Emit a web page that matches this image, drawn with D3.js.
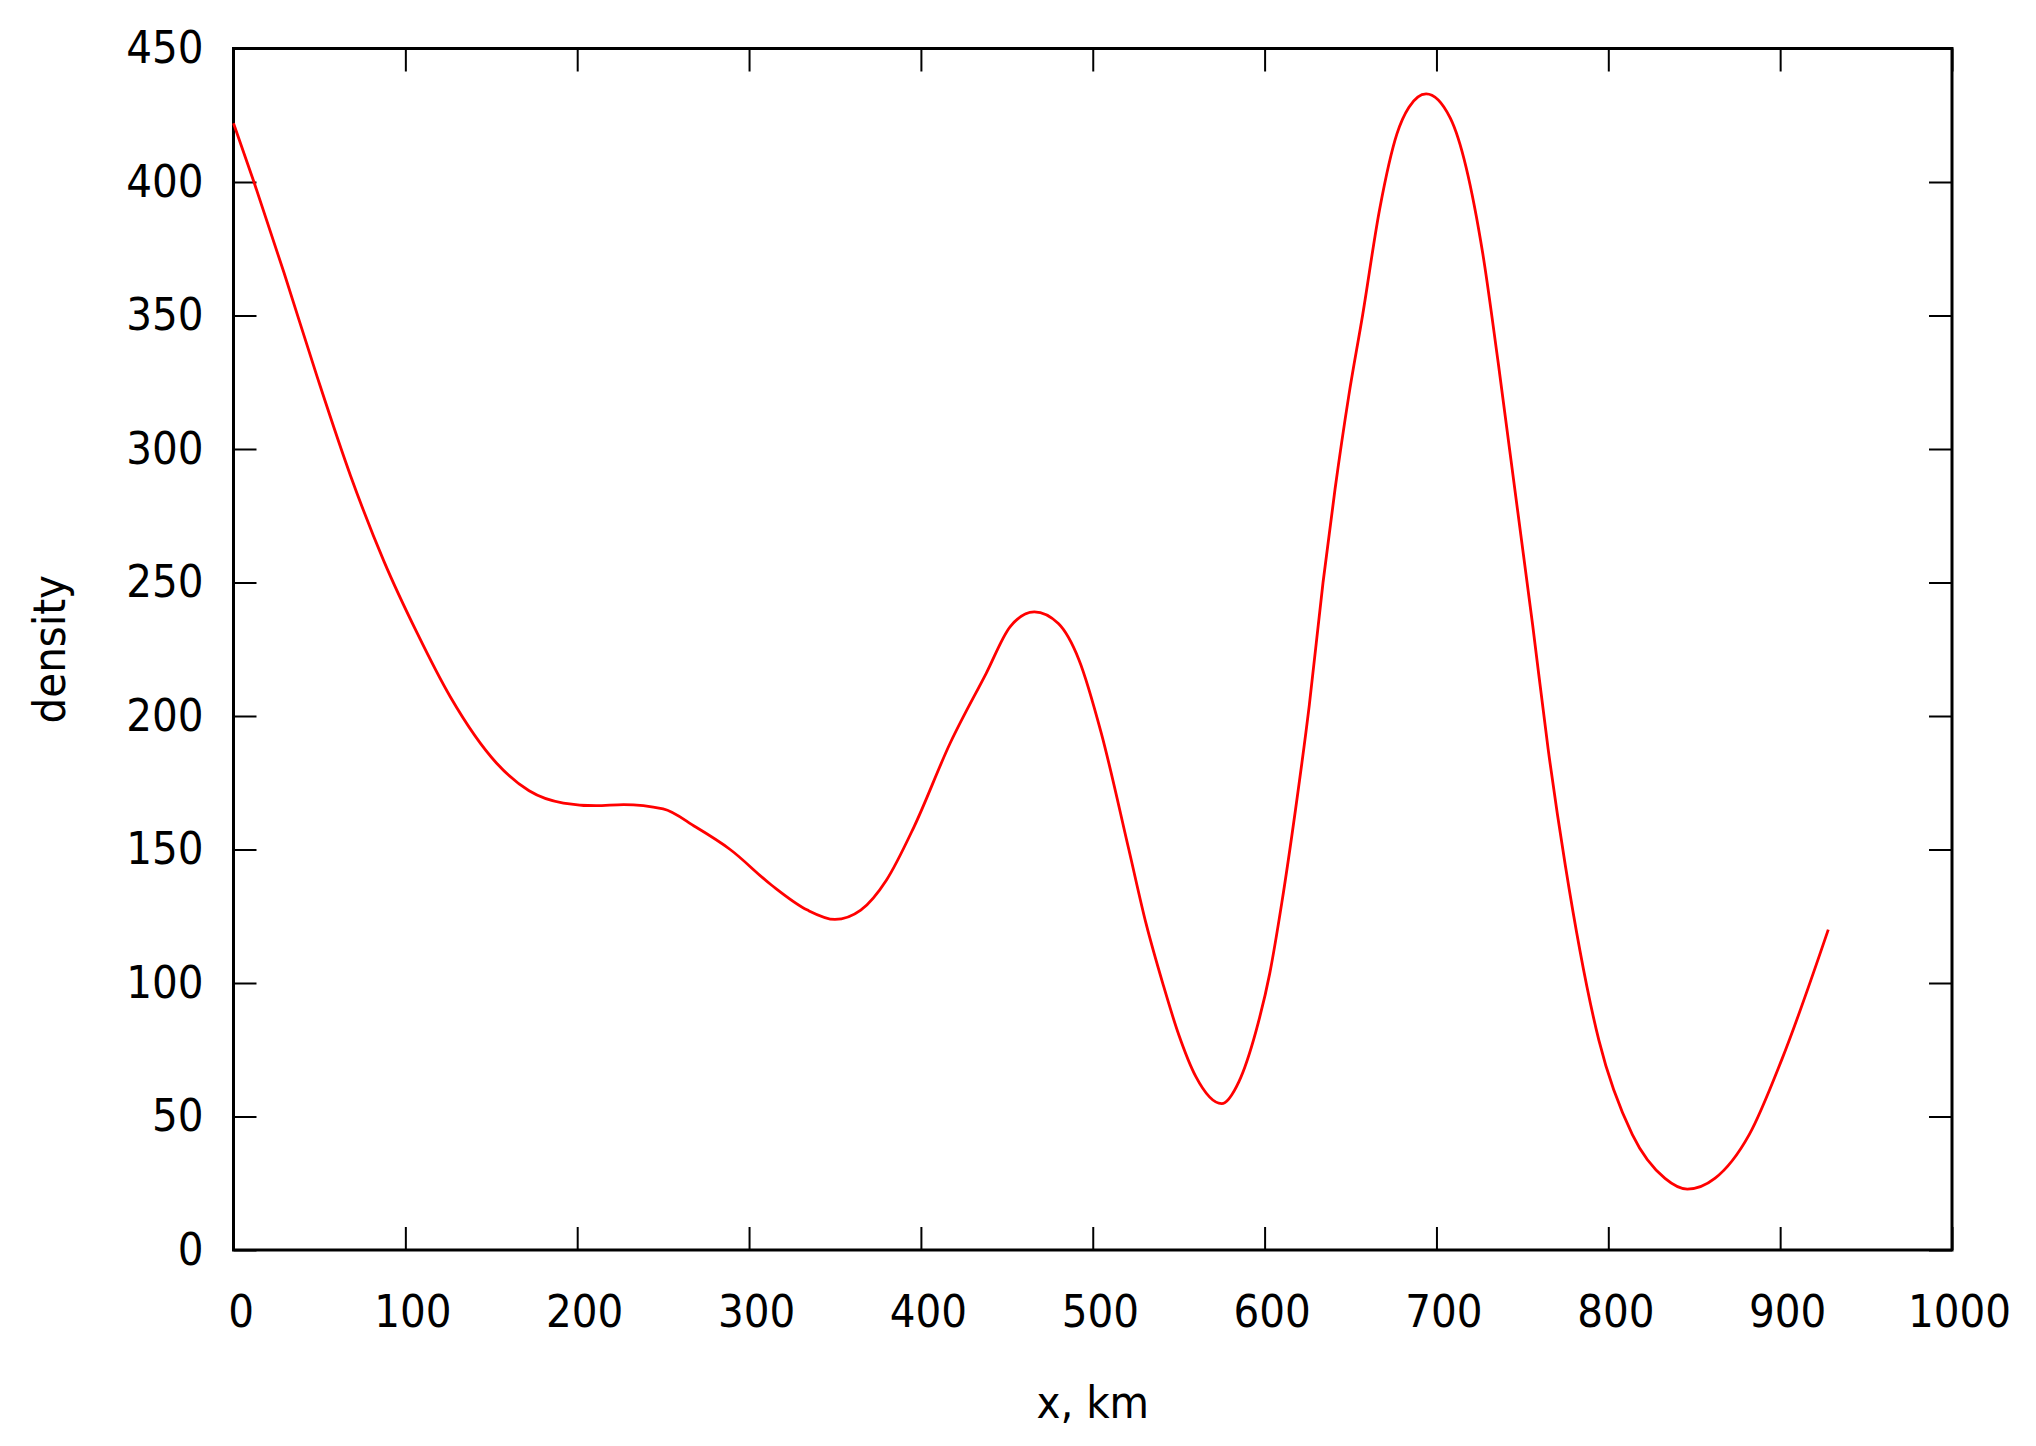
<!DOCTYPE html>
<html>
<head>
<meta charset="utf-8">
<script src="https://cdn.jsdelivr.net/npm/d3@7"></script>
<style>
    body { margin: 0; background: #fff; }
    text { font-family: "DejaVu Sans Condensed", "DejaVu Sans", sans-serif; fill: #000; }
</style>
</head>
<body>
<div id="chart"></div>
<script>
// distance along the profile, km
const xKm = [0, 11.9, 29.4, 48.7, 68.1, 87.5, 106.9, 126.3, 153, 172, 192, 211, 227, 250, 269, 289,
    313, 334, 350, 365, 380, 396, 417, 438, 452, 466, 480, 492, 505, 521, 531, 541, 550, 560,
    575, 585, 595, 603, 610, 618, 626, 634, 641, 649, 657, 667, 677, 684, 694, 708, 727, 736,
    756, 765, 775, 794.5, 814, 833, 846, 862, 882, 901, 928];

// density
const density = [422, 400, 366, 327, 290, 258, 231, 207, 182.4, 172, 167.4, 166.4, 166.8, 165.2, 158.4, 150,
    136.7, 127.3, 123.8, 127.3, 138.6, 158.5, 189.8, 216, 233.5, 239, 234.6, 221, 193.5, 150, 122.3, 99.3, 80.7, 64.9,
    54.8, 63, 82, 103.6, 130, 165, 204, 250, 285, 320, 350, 390, 418, 428, 433, 424, 373, 332,
    234, 187.6, 144, 78.6, 43.2, 26.8, 22.8, 26.8, 43.2, 71.4, 120];

const xTicks = [0, 100, 200, 300, 400, 500, 600, 700, 800, 900, 1000];
const yTicks = [0, 50, 100, 150, 200, 250, 300, 350, 400, 450];

const W = 2036, H = 1446;
const margin = { top: 48.5, right: 84, bottom: 196, left: 233.5 };
const width = W - margin.left - margin.right;
const height = H - margin.top - margin.bottom;

const svg = d3.select("#chart").append("svg")
    .attr("width", W)
    .attr("height", H);

const g = svg.append("g")
    .attr("transform", `translate(${margin.left},${margin.top})`);

const x = d3.scaleLinear().domain([0, 1000]).range([0, width]);
const y = d3.scaleLinear().domain([0, 450]).range([height, 0]);

const tickLen = 23;
const fmt = d3.format("d");

// bottom axis with labels
const xAxis = g.append("g")
    .attr("transform", `translate(0,${height})`)
    .call(d3.axisBottom(x).tickValues(xTicks).tickFormat(fmt).tickSize(-tickLen).tickPadding(45).tickSizeOuter(0));

// left axis with labels
const yAxis = g.append("g")
    .call(d3.axisLeft(y).tickValues(yTicks).tickFormat(fmt).tickSize(-tickLen).tickPadding(30).tickSizeOuter(0));

// mirrored ticks on top and right
const xTop = g.append("g")
    .call(d3.axisTop(x).tickValues(xTicks).tickSize(-tickLen).tickFormat("").tickSizeOuter(0));
const yRight = g.append("g")
    .attr("transform", `translate(${width},0)`)
    .call(d3.axisRight(y).tickValues(yTicks).tickSize(-tickLen).tickFormat("").tickSizeOuter(0));

[xAxis, yAxis, xTop, yRight].forEach(a => {
    a.select(".domain").remove();
    a.selectAll(".tick line").attr("stroke", "#000").attr("stroke-width", 2);
});

xAxis.selectAll(".tick text")
    .attr("dx", 7)
    .style("font-size", "45px");
yAxis.selectAll(".tick text")
    .style("font-size", "45px");

// frame
g.append("rect")
    .attr("x", 0)
    .attr("y", 0)
    .attr("width", width)
    .attr("height", height)
    .attr("fill", "none")
    .attr("stroke", "#000")
    .attr("stroke-width", 3);

// curve (monotoneX keeps the real x spacing, so no kinks)
const points = xKm.map((d, i) => [d, density[i]]);
const line = d3.line()
    .x(d => x(d[0]))
    .y(d => y(d[1]))
    .curve(d3.curveMonotoneX);

g.append("path")
    .datum(points)
    .attr("fill", "none")
    .attr("stroke", "#ff0000")
    .attr("stroke-width", 2.8)
    .attr("d", line);

// axis titles
svg.append("text")
    .attr("x", margin.left + width / 2)
    .attr("y", 1418)
    .attr("text-anchor", "middle")
    .style("font-size", "45px")
    .text("x, km");

svg.append("text")
    .attr("transform", `translate(65,${margin.top + height / 2}) rotate(-90)`)
    .attr("text-anchor", "middle")
    .style("font-size", "45px")
    .text("density");
</script>
</body>
</html>
